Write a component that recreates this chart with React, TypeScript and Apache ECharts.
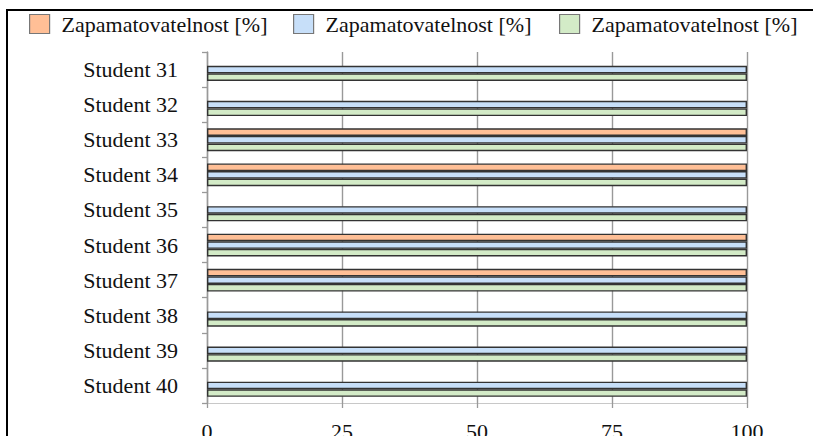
import React, { useEffect, useRef } from "react";
import * as echarts from "echarts";

const categories = [
  "Student 31", "Student 32", "Student 33", "Student 34", "Student 35",
  "Student 36", "Student 37", "Student 38", "Student 39", "Student 40",
];
const seriesNames = ["Zapamatovatelnost [%] A", "Zapamatovatelnost [%] B", "Zapamatovatelnost [%] C"];
const legendLabel = "Zapamatovatelnost [%]";
const orangeValues = [null, null, 100, 100, null, 100, 100, null, null, null];
const blueValues = [100, 100, 100, 100, 100, 100, 100, 100, 100, 100];
const greenValues = [100, 100, 100, 100, 100, 100, 100, 100, 100, 100];
const xTicks = [0, 25, 50, 75, 100];

const colors = ["#FFBF96", "#C7DFF9", "#D3EBC7"];
const FONT = "Times New Roman, Liberation Serif, Tinos, DejaVu Serif, serif";

export default function App() {
  const ref = useRef<HTMLDivElement>(null);
  useEffect(() => {
    if (!ref.current) return;
    const chart = echarts.init(ref.current, null, { renderer: "svg" });
    const allValues = [orangeValues, blueValues, greenValues];
    const legendLefts = [24, 288, 554];
    chart.setOption({
      animation: false,
      backgroundColor: "#fff",
      textStyle: { fontFamily: FONT },
      legend: seriesNames.map((n, i) => ({
        data: [n],
        left: legendLefts[i],
        top: 8,
        itemWidth: 20,
        itemHeight: 19,
        icon: "rect",
        itemStyle: { borderColor: "#777", borderWidth: 1.2 },
        formatter: () => legendLabel,
        textStyle: { fontFamily: FONT, fontSize: 22, color: "#111", padding: [0, 0, 0, 7] },
        selectedMode: false,
      })),
      grid: { left: 207, right: 66, top: 52, bottom: 33, outerBoundsMode: "none", containLabel: false },
      xAxis: {
        type: "value",
        min: xTicks[0],
        max: xTicks[xTicks.length - 1],
        interval: 25,
        axisLine: { show: true, lineStyle: { color: "#c8c8c8", width: 1 } },
        axisTick: { show: true, length: 5, lineStyle: { color: "#999", width: 1.3 } },
        splitLine: { show: true, lineStyle: { color: "#999", width: 1.4 } },
        axisLabel: { fontFamily: FONT, fontSize: 22, color: "#111", margin: 17 },
      },
      yAxis: {
        type: "category",
        inverse: true,
        data: categories,
        axisLine: { show: true, lineStyle: { color: "#999", width: 1.4 } },
        axisTick: { show: true, length: 5, lineStyle: { color: "#999", width: 1.3 } },
        axisLabel: { fontFamily: FONT, fontSize: 22, color: "#111", margin: 29 },
      },
      graphic: [
        { type: "line", shape: { x1: 6, y1: 10, x2: 813, y2: 10 }, style: { stroke: "#000", lineWidth: 2 } },
        { type: "line", shape: { x1: 7, y1: 10, x2: 7, y2: 436 }, style: { stroke: "#000", lineWidth: 2 } },
      ],
      series: seriesNames.map((n, i) => ({
        name: n,
        type: "bar",
        data: allValues[i],
        barWidth: 7.6,
        barGap: "0%",
        itemStyle: { color: colors[i], borderColor: "#333", borderWidth: 1.4 },
      })),
    });
    return () => chart.dispose();
  }, []);
  return (
    <div
      ref={ref}
      style={{ position: "fixed", left: 0, top: 0, width: 813, height: 436 }}
    />
  );
}
